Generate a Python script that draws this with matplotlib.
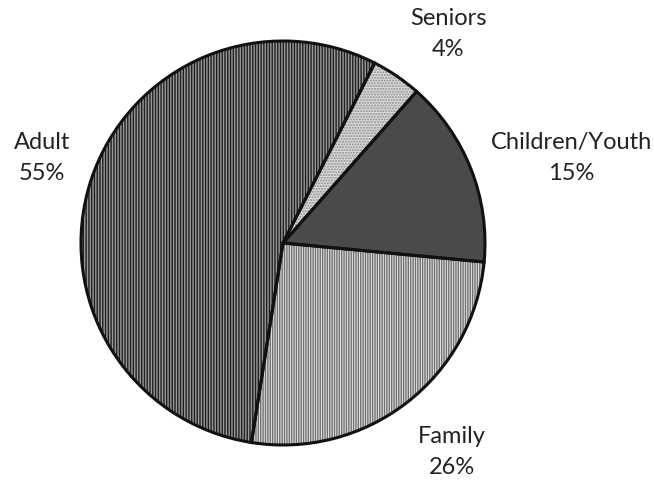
import matplotlib
matplotlib.use("Agg")
import matplotlib.pyplot as plt

categories = ["Seniors", "Children/Youth", "Family", "Adult"]
values = [4, 15, 26, 55]
pct_labels = ["4%", "15%", "26%", "55%"]

face_colors = ["#dcdcdc", "#4a4a4a", "#e6e6e6", "#1e1e1e"]
hatch_colors = ["#8a8a8a", "#5a5a5a", "#707070", "#9a9a9a"]
hatches = ["......", "", "|||||||", "||||||"]

plt.rcParams['font.family'] = ['Lato', 'DejaVu Sans']
plt.rcParams['hatch.linewidth'] = 1.0

fig = plt.figure(figsize=(6.54, 4.82), dpi=100)
ax = fig.add_axes([0, 0, 1, 1])

center = (283, 239)
radius = 202
start = 63

wedges, _ = ax.pie(values, colors=face_colors, startangle=start, counterclock=False,
                   center=center, radius=radius, frame=True,
                   wedgeprops=dict(linewidth=0))
wh, _ = ax.pie(values, colors=face_colors, startangle=start, counterclock=False,
               center=center, radius=radius, frame=True,
               wedgeprops=dict(linewidth=0, fill=False))
for w, h, hc in zip(wh, hatches, hatch_colors):
    w.set_hatch(h)
    w.set_edgecolor(hc)
wo, _ = ax.pie(values, startangle=start, counterclock=False,
               center=center, radius=radius, frame=True,
               wedgeprops=dict(linewidth=2.2, edgecolor='#111111', fill=False))
ax.set_xlim(0, 654)
ax.set_ylim(0, 482)
ax.set_aspect('equal')
ax.axis('off')

label_pos = {"Seniors": (448, 482 - 34), "Children/Youth": (571, 482 - 158),
             "Family": (452, 482 - 452), "Adult": (42, 482 - 158)}
for cat, pl in zip(categories, pct_labels):
    x, y = label_pos[cat]
    ax.text(x, y, f"{cat}\n{pl}", ha='center', va='center', fontsize=17,
            color='#222222', linespacing=1.6)

fig.savefig("out.png", dpi=100)
